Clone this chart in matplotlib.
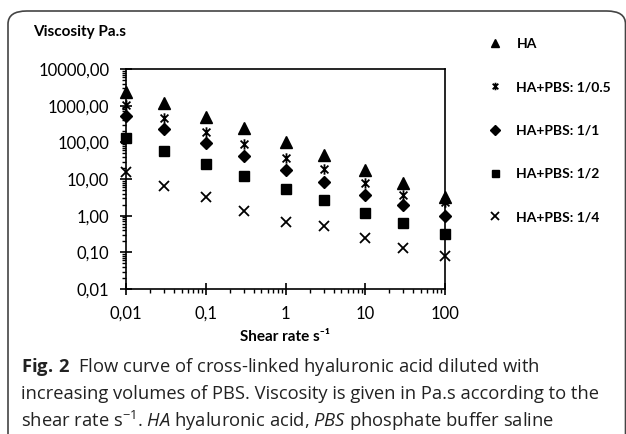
import matplotlib
matplotlib.use("Agg")
import matplotlib.pyplot as plt
from matplotlib.patches import FancyBboxPatch
from matplotlib.path import Path
from matplotlib.ticker import LogLocator, NullFormatter

plt.rcParams['font.family'] = ['Lato', 'DejaVu Sans']
plt.rcParams['mathtext.fontset'] = 'custom'
plt.rcParams['mathtext.rm'] = 'Open Sans'
plt.rcParams['mathtext.it'] = 'Open Sans:italic'
plt.rcParams['mathtext.bf'] = 'Open Sans:bold'

# shear rate (1/s) and viscosity (Pa.s)
shear = [0.01, 0.03, 0.1, 0.3, 1, 3, 10, 30, 100]
ha = [2400, 1200, 500, 240, 104, 45, 17.6, 7.9, 3.3]
ha_05 = [1040, 450, 195, 88, 37, 18.4, 7.6, 3.7, 2.3]
ha_1 = [520, 227, 94, 43, 17.6, 8.5, 3.7, 1.9, 0.98]
ha_2 = [134, 58, 25.6, 12.3, 5.3, 2.6, 1.16, 0.62, 0.32]
ha_4 = [15.8, 6.5, 3.2, 1.34, 0.68, 0.52, 0.24, 0.134, 0.08]

labels = ["HA", "HA+PBS: 1/0.5", "HA+PBS: 1/1", "HA+PBS: 1/2", "HA+PBS: 1/4"]
xticks = [0.01, 0.1, 1, 10, 100]
xticklabels = ["0,01", "0,1", "1", "10", "100"]
yticks = [0.01, 0.1, 1, 10, 100, 1000, 10000]
yticklabels = ["0,01", "0,10", "1,00", "10,00", "100,00", "1000,00", "10000,00"]

# excel style asterisk: vertical bar plus an X
star = Path([(0, -1), (0, 1), (-0.75, -0.75), (0.75, 0.75), (-0.75, 0.75), (0.75, -0.75)],
            [Path.MOVETO, Path.LINETO, Path.MOVETO, Path.LINETO, Path.MOVETO, Path.LINETO])

fig = plt.figure(figsize=(6.26, 4.34), dpi=100)
ax = fig.add_axes([126 / 626, 1 - 289 / 434, 319 / 626, 220 / 434])

series = [ha, ha_05, ha_1, ha_2, ha_4]
markers = ['^', star, 'D', 's', 'x']
sizes = [8.5, 7.5, 6.5, 7, 7.5]
handles = []
for vals, m, s, lab in zip(series, markers, sizes, labels):
    h, = ax.plot(shear, vals, linestyle='none', marker=m, ms=s, color='black',
                 mec='black', mew=1.3 if (m == 'x' or m is star) else 1,
                 label=lab, clip_on=False, zorder=3)
    handles.append(h)

ax.set_xscale('log')
ax.set_yscale('log')
ax.set_xlim(0.01, 100)
ax.set_ylim(0.01, 10000)
ax.set_xticks(xticks)
ax.set_xticklabels(xticklabels)
ax.set_yticks(yticks)
ax.set_yticklabels(yticklabels)
ax.xaxis.set_minor_locator(LogLocator(base=10, subs=range(2, 10)))
ax.yaxis.set_minor_locator(LogLocator(base=10, subs=range(2, 10)))
ax.xaxis.set_minor_formatter(NullFormatter())
ax.yaxis.set_minor_formatter(NullFormatter())
ax.tick_params(which='major', direction='inout', length=8, width=1.2, labelsize=12, pad=8)
ax.tick_params(which='minor', direction='out', length=3, width=1)
for sp in ax.spines.values():
    sp.set_linewidth(1.2)

fig.text(33 / 626, 1 - 32 / 434, "Viscosity Pa.s", fontsize=11, fontweight='bold', va='center')
fig.text(285 / 626, 1 - 337 / 434, "Shear rate s\u207b\u00b9", fontsize=11,
         fontweight='bold', va='center', ha='center')

fig.legend(handles=handles, labels=labels, loc='upper left',
           bbox_to_anchor=(488 / 626, 1 - 38 / 434), frameon=False,
           borderpad=0, borderaxespad=0,
           labelspacing=2.25, handletextpad=1.05, handlelength=1.0,
           prop={'weight': 'bold', 'size': 10}, markerscale=0.72)

cap = [r"$\mathbf{Fig.\,2}$  Flow curve of cross-linked hyaluronic acid diluted with",
       "increasing volumes of PBS. Viscosity is given in Pa.s according to the",
       r"shear rate s$^{-1}$. $\mathit{HA}$ hyaluronic acid, $\mathit{PBS}$ phosphate buffer saline"]
for i, line in enumerate(cap):
    fig.text(21 / 626, 1 - (367 + 27 * i) / 434, line, fontsize=13.2, va='center',
             color='#222222', family='Open Sans')

frame = FancyBboxPatch((8 / 626, -0.2), 617.5 / 626, (434 - 11) / 434 + 0.2,
                       boxstyle="round,pad=0,rounding_size=0.03",
                       transform=fig.transFigure, fill=False, ec='#444444', lw=1.2)
fig.patches.append(frame)

fig.savefig("out.png", dpi=100)
